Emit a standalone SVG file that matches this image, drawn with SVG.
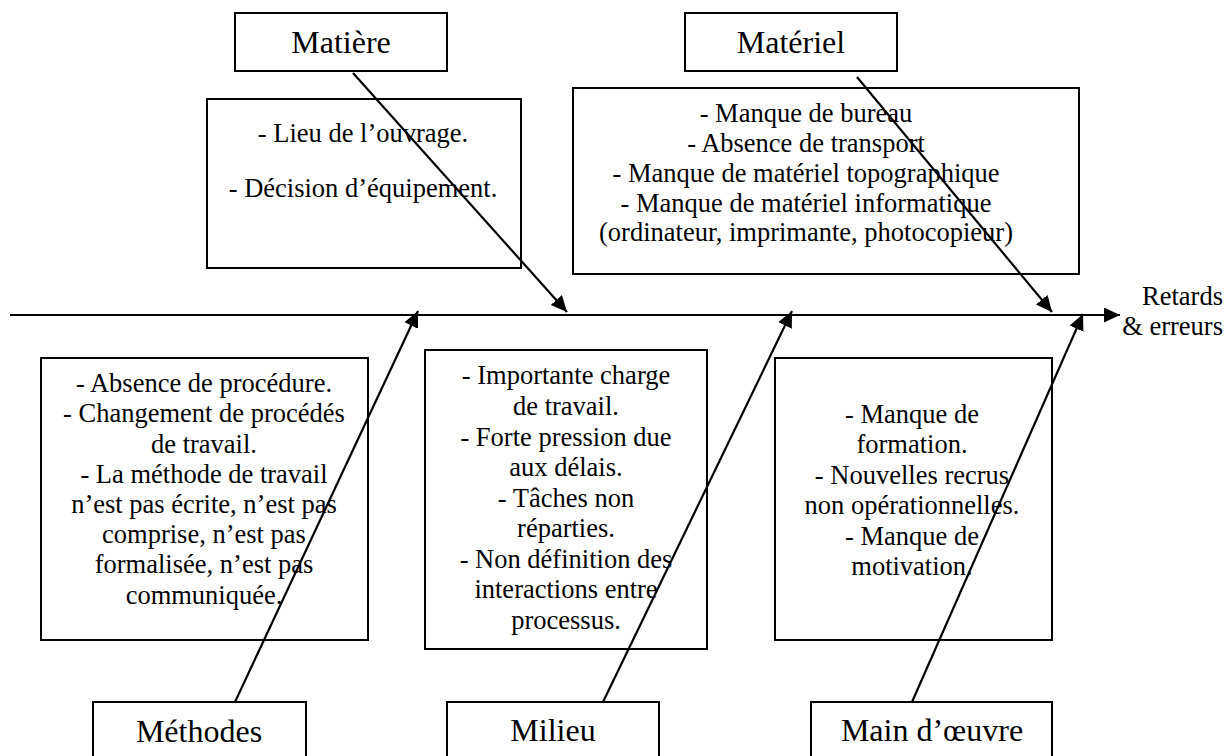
<svg xmlns="http://www.w3.org/2000/svg" width="1227" height="756" viewBox="0 0 1227 756">
<style>
.box{fill:#fff;stroke:#000;stroke-width:2}
text{font-family:'Liberation Serif','DejaVu Serif',serif;fill:#000;text-anchor:middle}
.lbl{font-size:32px}
.txt{font-size:26.5px}
.end{text-anchor:end}
.ln{stroke:#000;stroke-width:2.2;fill:none}
</style>
<defs>
<marker id="ah" markerUnits="userSpaceOnUse" markerWidth="18" markerHeight="16" refX="16" refY="7.5" orient="auto">
<path d="M0,0 L16,7.5 L0,15 Z" fill="#000"/>
</marker>
</defs>
<rect width="1227" height="756" fill="#fff"/>

<g id="n-matiere"><rect class="box" x="235" y="13" width="212" height="58"/><text class="lbl" x="341" y="53" font-family="Liberation Serif">Matière</text></g>
<g id="n-matiere-causes"><rect class="box" x="207" y="99" width="314" height="169"/>
<text class="txt" x="363" y="142">- Lieu de l’ouvrage.</text>
<text class="txt" x="363" y="197">- Décision d’équipement.</text></g>

<g id="n-materiel"><rect class="box" x="685" y="13" width="212" height="58"/><text class="lbl" x="791" y="53">Matériel</text></g>
<g id="n-materiel-causes"><rect class="box" x="573" y="88" width="506" height="186"/>
<text class="txt" x="806" y="122">- Manque de bureau</text>
<text class="txt" x="806" y="152">- Absence de transport</text>
<text class="txt" x="806" y="182">- Manque de matériel topographique</text>
<text class="txt" x="806" y="212">- Manque de matériel informatique</text>
<text class="txt" x="806" y="241">(ordinateur, imprimante, photocopieur)</text></g>

<g id="n-methodes-causes"><rect class="box" x="41" y="358" width="327" height="282"/>
<text class="txt" x="204" y="392">- Absence de procédure.</text>
<text class="txt" x="204" y="422">- Changement de procédés</text>
<text class="txt" x="204" y="453">de travail.</text>
<text class="txt" x="204" y="483">- La méthode de travail</text>
<text class="txt" x="204" y="513">n’est pas écrite, n’est pas</text>
<text class="txt" x="204" y="543">comprise, n’est pas</text>
<text class="txt" x="204" y="573">formalisée, n’est pas</text>
<text class="txt" x="204" y="604">communiquée.</text></g>

<g id="n-milieu-causes"><rect class="box" x="425" y="350" width="282" height="299"/>
<text class="txt" x="566" y="384">- Importante charge</text>
<text class="txt" x="566" y="415">de travail.</text>
<text class="txt" x="566" y="446">- Forte pression due</text>
<text class="txt" x="566" y="476">aux délais.</text>
<text class="txt" x="566" y="507">- Tâches non</text>
<text class="txt" x="566" y="537">réparties.</text>
<text class="txt" x="566" y="568">- Non définition des</text>
<text class="txt" x="566" y="598">interactions entre</text>
<text class="txt" x="566" y="629">processus.</text></g>

<g id="n-main-causes"><rect class="box" x="775" y="358" width="277" height="282"/>
<text class="txt" x="912" y="423">- Manque de</text>
<text class="txt" x="912" y="453">formation.</text>
<text class="txt" x="912" y="484">- Nouvelles recrus</text>
<text class="txt" x="912" y="514">non opérationnelles.</text>
<text class="txt" x="912" y="545">- Manque de</text>
<text class="txt" x="912" y="575">motivation.</text></g>

<g id="n-methodes"><rect class="box" x="93" y="702" width="213" height="60"/><text class="lbl" x="199" y="742">Méthodes</text></g>
<g id="n-milieu"><rect class="box" x="447" y="702" width="212" height="60"/><text class="lbl" x="553" y="741">Milieu</text></g>
<g id="n-main"><rect class="box" x="811" y="702" width="241" height="60"/><text class="lbl" x="932" y="741">Main d’œuvre</text></g>

<g id="n-effect">
<text class="txt end" x="1223" y="305">Retards</text>
<text class="txt end" x="1223" y="335">&amp; erreurs</text>
</g>

<g id="connectors">
<line class="ln" x1="10" y1="315" x2="1120" y2="315" marker-end="url(#ah)"/>
<line class="ln" x1="353" y1="73" x2="567" y2="312" marker-end="url(#ah)"/>
<line class="ln" x1="857" y1="77" x2="1052" y2="312" marker-end="url(#ah)"/>
<line class="ln" x1="235" y1="702" x2="418" y2="311" marker-end="url(#ah)"/>
<line class="ln" x1="603" y1="702" x2="792" y2="311" marker-end="url(#ah)"/>
<line class="ln" x1="912" y1="702" x2="1083" y2="314" marker-end="url(#ah)"/>
</g>
</svg>
